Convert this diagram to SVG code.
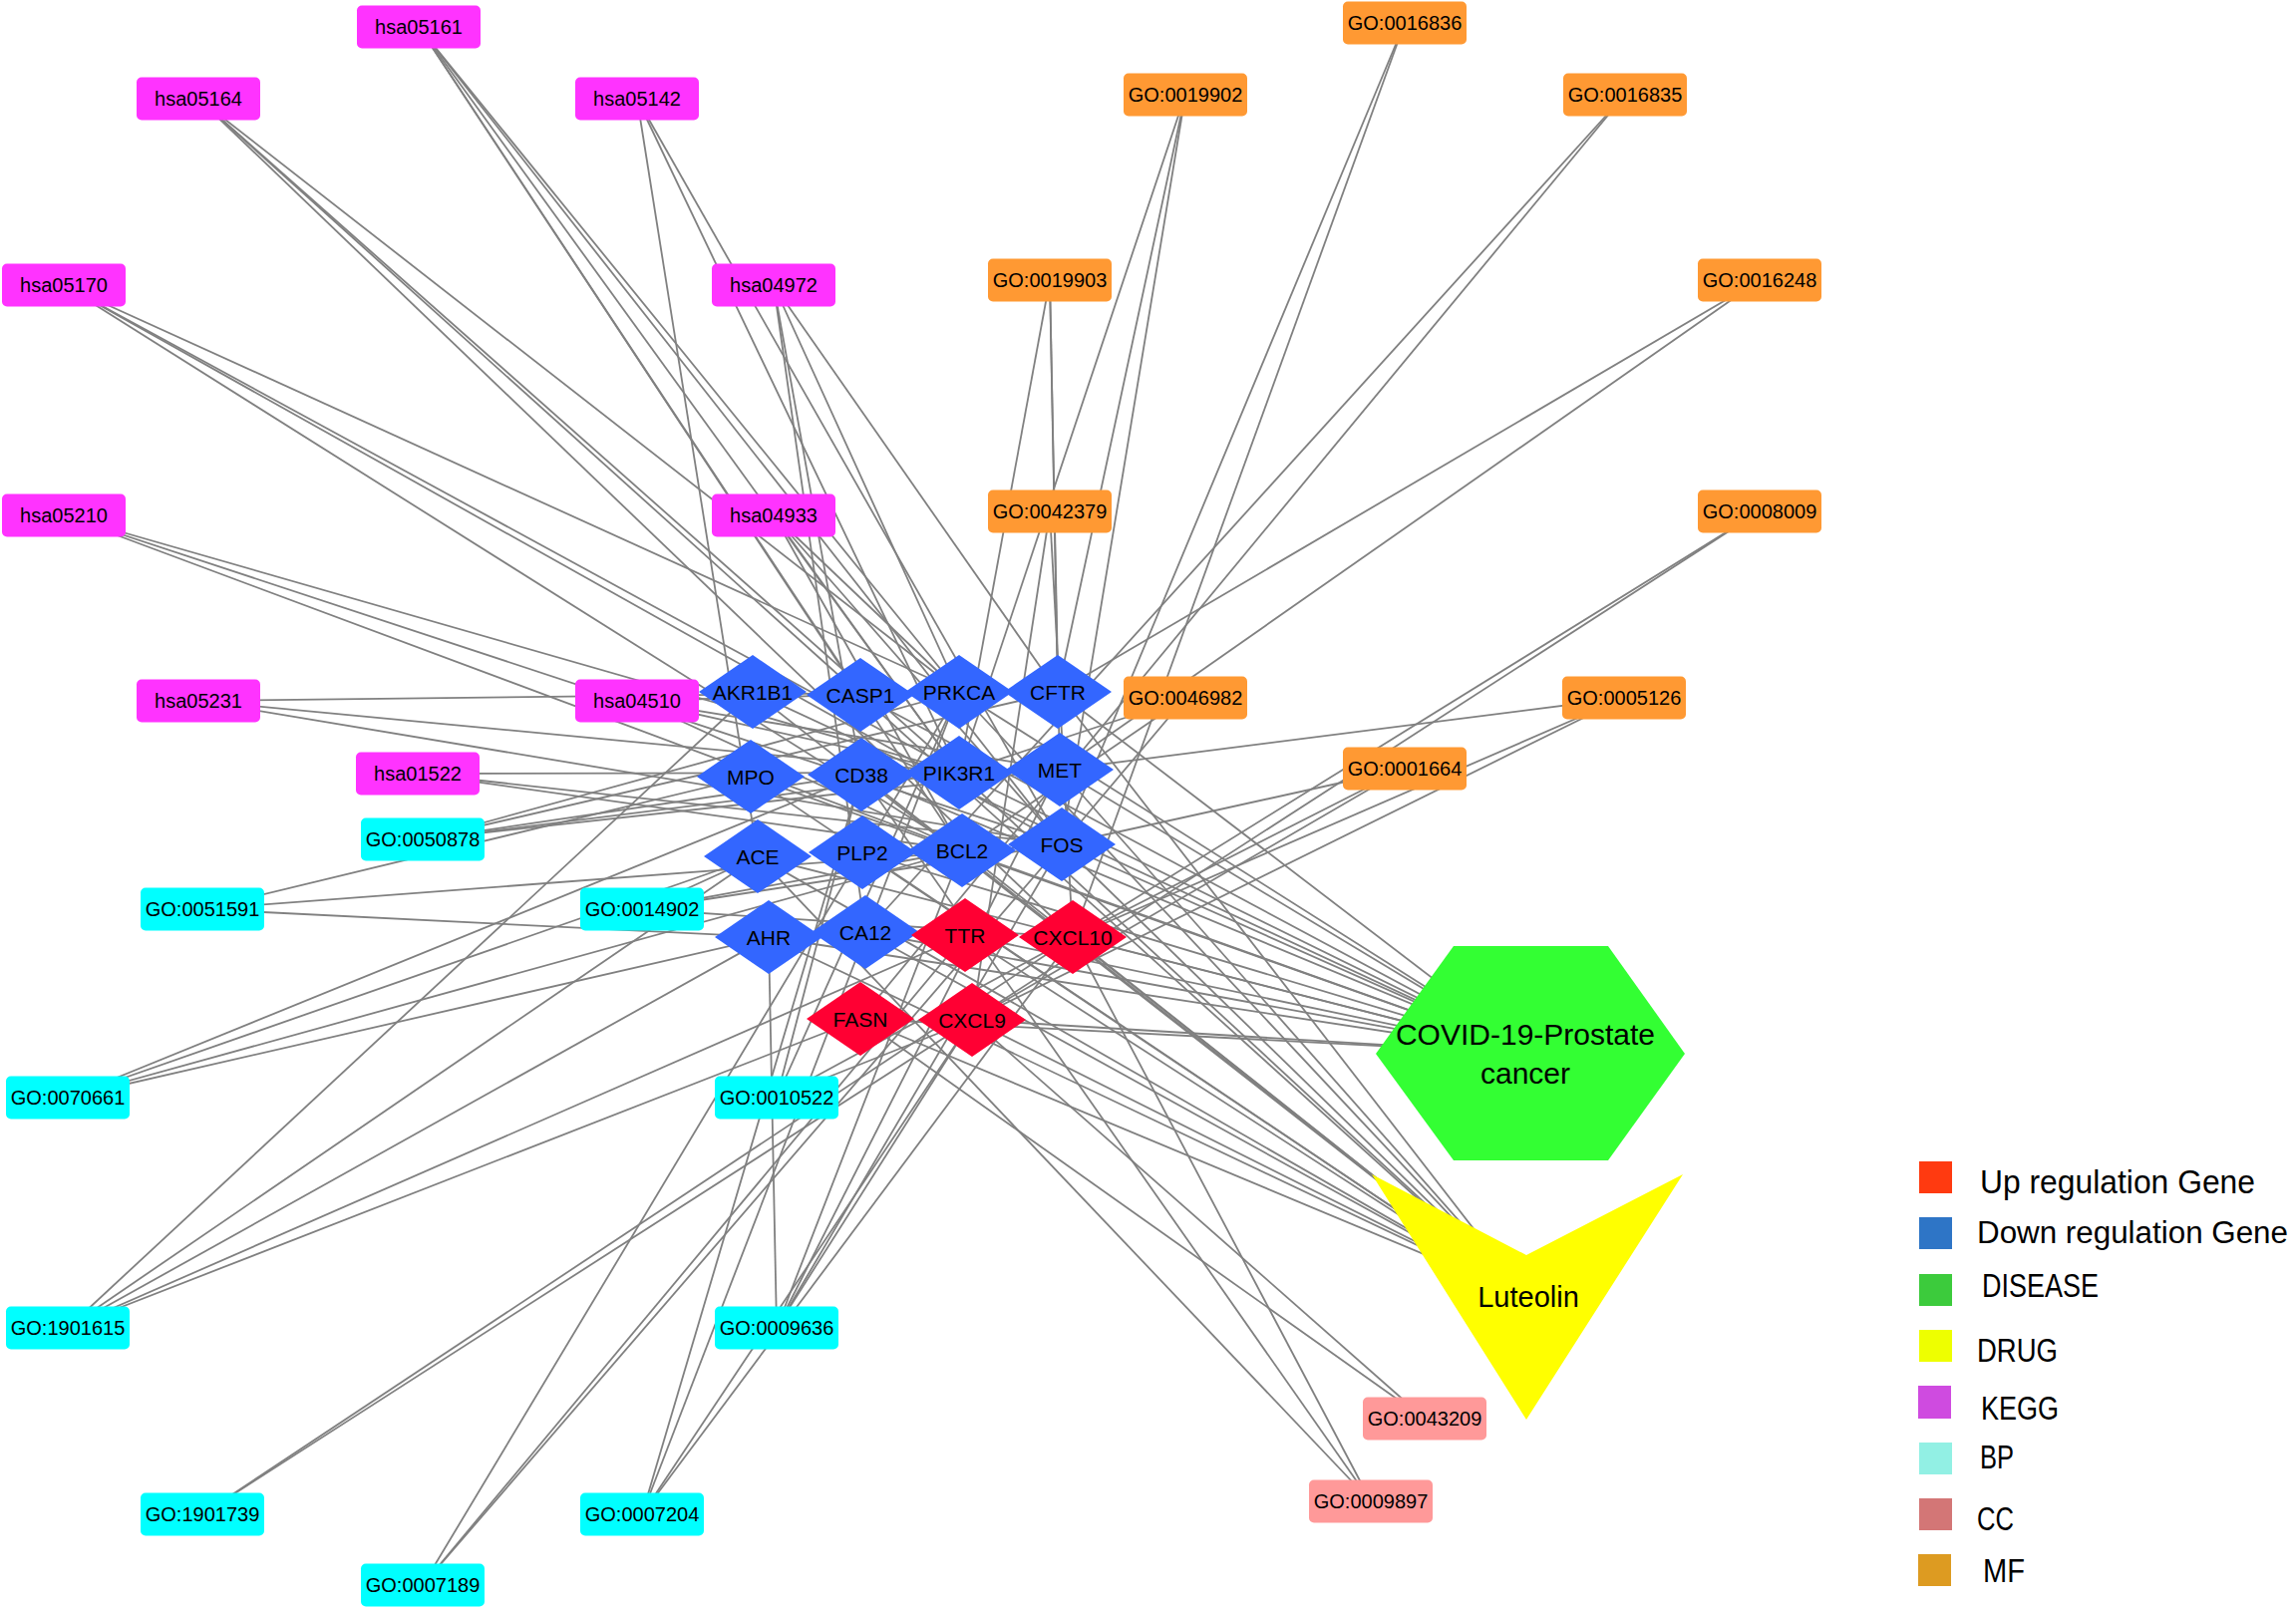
<svg xmlns="http://www.w3.org/2000/svg" width="2303" height="1614" viewBox="0 0 2303 1614">
<style>
.e line{stroke:#808080;stroke-width:1.8}
.k{fill:#FF33FF}.bp{fill:#00FFFF}.mf{fill:#FF9933}.cc{fill:#FF9999}
.dn{fill:#3366FF}.up{fill:#FF0033}
text{font-family:"Liberation Sans",Arial,sans-serif;fill:#000;text-anchor:middle}
.t{font-size:20px}.g{font-size:21px}.big{font-size:30px}
.lg{font-size:33px;text-anchor:start}
</style>
<rect width="2303" height="1614" fill="#fff"/>
<g id="edges" class="e">
<line x1="420" y1="27" x2="962" y2="694"/><line x1="420" y1="27" x2="962" y2="775"/><line x1="420" y1="27" x2="965" y2="853"/><line x1="420" y1="27" x2="1065" y2="847"/><line x1="420" y1="27" x2="863" y2="697"/>
<line x1="199" y1="99" x2="1076" y2="940"/><line x1="199" y1="99" x2="863" y2="697"/><line x1="199" y1="99" x2="962" y2="775"/><line x1="199" y1="99" x2="962" y2="694"/>
<line x1="639" y1="99" x2="760" y2="859"/><line x1="639" y1="99" x2="1065" y2="847"/><line x1="639" y1="99" x2="962" y2="775"/>
<line x1="64" y1="286" x2="962" y2="694"/><line x1="64" y1="286" x2="962" y2="775"/><line x1="64" y1="286" x2="1065" y2="847"/><line x1="64" y1="286" x2="965" y2="853"/>
<line x1="776" y1="286" x2="1061" y2="694"/><line x1="776" y1="286" x2="962" y2="694"/><line x1="776" y1="286" x2="864" y2="777"/><line x1="776" y1="286" x2="868" y2="935"/>
<line x1="64" y1="517" x2="962" y2="775"/><line x1="64" y1="517" x2="1065" y2="847"/><line x1="64" y1="517" x2="965" y2="853"/>
<line x1="776" y1="517" x2="962" y2="694"/><line x1="776" y1="517" x2="962" y2="775"/><line x1="776" y1="517" x2="965" y2="853"/><line x1="776" y1="517" x2="1065" y2="847"/>
<line x1="199" y1="703" x2="962" y2="694"/><line x1="199" y1="703" x2="962" y2="775"/><line x1="199" y1="703" x2="1065" y2="847"/>
<line x1="639" y1="703" x2="962" y2="694"/><line x1="639" y1="703" x2="962" y2="775"/><line x1="639" y1="703" x2="965" y2="853"/><line x1="639" y1="703" x2="1063" y2="772"/>
<line x1="419" y1="776" x2="962" y2="775"/><line x1="419" y1="776" x2="965" y2="853"/><line x1="419" y1="776" x2="1065" y2="847"/>
<line x1="424" y1="842" x2="962" y2="694"/><line x1="424" y1="842" x2="1061" y2="694"/><line x1="424" y1="842" x2="864" y2="777"/><line x1="424" y1="842" x2="962" y2="775"/><line x1="424" y1="842" x2="1063" y2="772"/>
<line x1="203" y1="912" x2="753" y2="779"/><line x1="203" y1="912" x2="1065" y2="847"/><line x1="203" y1="912" x2="771" y2="940"/>
<line x1="644" y1="912" x2="760" y2="859"/><line x1="644" y1="912" x2="965" y2="853"/><line x1="644" y1="912" x2="1065" y2="847"/><line x1="644" y1="912" x2="1076" y2="940"/>
<line x1="68" y1="1101" x2="864" y2="777"/><line x1="68" y1="1101" x2="965" y2="853"/><line x1="68" y1="1101" x2="771" y2="940"/><line x1="68" y1="1101" x2="760" y2="859"/>
<line x1="779" y1="1101" x2="864" y2="777"/><line x1="779" y1="1101" x2="962" y2="694"/><line x1="779" y1="1101" x2="1076" y2="940"/><line x1="779" y1="1101" x2="975" y2="1023"/>
<line x1="68" y1="1332" x2="755" y2="694"/><line x1="68" y1="1332" x2="760" y2="859"/><line x1="68" y1="1332" x2="771" y2="940"/><line x1="68" y1="1332" x2="968" y2="938"/><line x1="68" y1="1332" x2="863" y2="1022"/>
<line x1="779" y1="1332" x2="771" y2="940"/><line x1="779" y1="1332" x2="965" y2="853"/><line x1="779" y1="1332" x2="1065" y2="847"/><line x1="779" y1="1332" x2="1063" y2="772"/><line x1="779" y1="1332" x2="975" y2="1023"/>
<line x1="203" y1="1519" x2="1076" y2="940"/><line x1="203" y1="1519" x2="975" y2="1023"/>
<line x1="644" y1="1519" x2="1076" y2="940"/><line x1="644" y1="1519" x2="975" y2="1023"/><line x1="644" y1="1519" x2="864" y2="777"/><line x1="644" y1="1519" x2="962" y2="694"/>
<line x1="424" y1="1590" x2="962" y2="694"/><line x1="424" y1="1590" x2="968" y2="938"/><line x1="424" y1="1590" x2="1065" y2="847"/>
<line x1="1409" y1="23" x2="1076" y2="940"/><line x1="1409" y1="23" x2="1065" y2="847"/>
<line x1="1189" y1="95" x2="962" y2="775"/><line x1="1189" y1="95" x2="1061" y2="694"/><line x1="1189" y1="95" x2="1065" y2="847"/>
<line x1="1630" y1="95" x2="868" y2="935"/><line x1="1630" y1="95" x2="863" y2="1022"/>
<line x1="1053" y1="281" x2="1061" y2="694"/><line x1="1053" y1="281" x2="962" y2="775"/><line x1="1053" y1="281" x2="1063" y2="772"/>
<line x1="1053" y1="513" x2="1076" y2="940"/><line x1="1053" y1="513" x2="975" y2="1023"/>
<line x1="1765" y1="281" x2="1061" y2="694"/><line x1="1765" y1="281" x2="1063" y2="772"/>
<line x1="1765" y1="513" x2="1076" y2="940"/><line x1="1765" y1="513" x2="975" y2="1023"/>
<line x1="1189" y1="700" x2="965" y2="853"/><line x1="1189" y1="700" x2="1065" y2="847"/><line x1="1189" y1="700" x2="962" y2="775"/>
<line x1="1629" y1="700" x2="1063" y2="772"/><line x1="1629" y1="700" x2="1076" y2="940"/><line x1="1629" y1="700" x2="975" y2="1023"/>
<line x1="1409" y1="771" x2="1076" y2="940"/><line x1="1409" y1="771" x2="975" y2="1023"/><line x1="1409" y1="771" x2="1065" y2="847"/>
<line x1="1429" y1="1423" x2="863" y2="1022"/><line x1="1429" y1="1423" x2="975" y2="1023"/>
<line x1="1375" y1="1506" x2="1076" y2="940"/><line x1="1375" y1="1506" x2="760" y2="859"/><line x1="1375" y1="1506" x2="864" y2="777"/>
<line x1="1536" y1="1057" x2="755" y2="694"/><line x1="1536" y1="1057" x2="863" y2="697"/><line x1="1536" y1="1057" x2="962" y2="694"/><line x1="1536" y1="1057" x2="1061" y2="694"/><line x1="1536" y1="1057" x2="753" y2="779"/><line x1="1536" y1="1057" x2="864" y2="777"/><line x1="1536" y1="1057" x2="962" y2="775"/><line x1="1536" y1="1057" x2="1063" y2="772"/><line x1="1536" y1="1057" x2="760" y2="859"/><line x1="1536" y1="1057" x2="865" y2="855"/><line x1="1536" y1="1057" x2="965" y2="853"/><line x1="1536" y1="1057" x2="1065" y2="847"/><line x1="1536" y1="1057" x2="771" y2="940"/><line x1="1536" y1="1057" x2="868" y2="935"/><line x1="1536" y1="1057" x2="968" y2="938"/><line x1="1536" y1="1057" x2="1076" y2="940"/><line x1="1536" y1="1057" x2="863" y2="1022"/><line x1="1536" y1="1057" x2="975" y2="1023"/>
<line x1="1531" y1="1301" x2="755" y2="694"/><line x1="1531" y1="1301" x2="863" y2="697"/><line x1="1531" y1="1301" x2="962" y2="694"/><line x1="1531" y1="1301" x2="1061" y2="694"/><line x1="1531" y1="1301" x2="753" y2="779"/><line x1="1531" y1="1301" x2="864" y2="777"/><line x1="1531" y1="1301" x2="962" y2="775"/><line x1="1531" y1="1301" x2="1063" y2="772"/><line x1="1531" y1="1301" x2="760" y2="859"/><line x1="1531" y1="1301" x2="865" y2="855"/><line x1="1531" y1="1301" x2="965" y2="853"/><line x1="1531" y1="1301" x2="1065" y2="847"/><line x1="1531" y1="1301" x2="771" y2="940"/><line x1="1531" y1="1301" x2="868" y2="935"/><line x1="1531" y1="1301" x2="968" y2="938"/><line x1="1531" y1="1301" x2="1076" y2="940"/><line x1="1531" y1="1301" x2="863" y2="1022"/><line x1="1531" y1="1301" x2="975" y2="1023"/>
</g>
<g id="n-hsa05161"><rect class="k" x="358" y="5.5" width="124" height="43" rx="5"/><text class="t" x="420" y="34">hsa05161</text></g>
<g id="n-hsa05164"><rect class="k" x="137" y="77.5" width="124" height="43" rx="5"/><text class="t" x="199" y="106">hsa05164</text></g>
<g id="n-hsa05142"><rect class="k" x="577" y="77.5" width="124" height="43" rx="5"/><text class="t" x="639" y="106">hsa05142</text></g>
<g id="n-hsa05170"><rect class="k" x="2" y="264.5" width="124" height="43" rx="5"/><text class="t" x="64" y="293">hsa05170</text></g>
<g id="n-hsa04972"><rect class="k" x="714" y="264.5" width="124" height="43" rx="5"/><text class="t" x="776" y="293">hsa04972</text></g>
<g id="n-hsa05210"><rect class="k" x="2" y="495.5" width="124" height="43" rx="5"/><text class="t" x="64" y="524">hsa05210</text></g>
<g id="n-hsa04933"><rect class="k" x="714" y="495.5" width="124" height="43" rx="5"/><text class="t" x="776" y="524">hsa04933</text></g>
<g id="n-hsa05231"><rect class="k" x="137" y="681.5" width="124" height="43" rx="5"/><text class="t" x="199" y="710">hsa05231</text></g>
<g id="n-hsa04510"><rect class="k" x="577" y="681.5" width="124" height="43" rx="5"/><text class="t" x="639" y="710">hsa04510</text></g>
<g id="n-hsa01522"><rect class="k" x="357" y="754.5" width="124" height="43" rx="5"/><text class="t" x="419" y="783">hsa01522</text></g>
<g id="n-GO0050878"><rect class="bp" x="362" y="820.5" width="124" height="43" rx="5"/><text class="t" x="424" y="849">GO:0050878</text></g>
<g id="n-GO0051591"><rect class="bp" x="141" y="890.5" width="124" height="43" rx="5"/><text class="t" x="203" y="919">GO:0051591</text></g>
<g id="n-GO0014902"><rect class="bp" x="582" y="890.5" width="124" height="43" rx="5"/><text class="t" x="644" y="919">GO:0014902</text></g>
<g id="n-GO0070661"><rect class="bp" x="6" y="1079.5" width="124" height="43" rx="5"/><text class="t" x="68" y="1108">GO:0070661</text></g>
<g id="n-GO0010522"><rect class="bp" x="717" y="1079.5" width="124" height="43" rx="5"/><text class="t" x="779" y="1108">GO:0010522</text></g>
<g id="n-GO1901615"><rect class="bp" x="6" y="1310.5" width="124" height="43" rx="5"/><text class="t" x="68" y="1339">GO:1901615</text></g>
<g id="n-GO0009636"><rect class="bp" x="717" y="1310.5" width="124" height="43" rx="5"/><text class="t" x="779" y="1339">GO:0009636</text></g>
<g id="n-GO1901739"><rect class="bp" x="141" y="1497.5" width="124" height="43" rx="5"/><text class="t" x="203" y="1526">GO:1901739</text></g>
<g id="n-GO0007204"><rect class="bp" x="582" y="1497.5" width="124" height="43" rx="5"/><text class="t" x="644" y="1526">GO:0007204</text></g>
<g id="n-GO0007189"><rect class="bp" x="362" y="1568.5" width="124" height="43" rx="5"/><text class="t" x="424" y="1597">GO:0007189</text></g>
<g id="n-GO0016836"><rect class="mf" x="1347" y="1.5" width="124" height="43" rx="5"/><text class="t" x="1409" y="30">GO:0016836</text></g>
<g id="n-GO0019902"><rect class="mf" x="1127" y="73.5" width="124" height="43" rx="5"/><text class="t" x="1189" y="102">GO:0019902</text></g>
<g id="n-GO0016835"><rect class="mf" x="1568" y="73.5" width="124" height="43" rx="5"/><text class="t" x="1630" y="102">GO:0016835</text></g>
<g id="n-GO0019903"><rect class="mf" x="991" y="259.5" width="124" height="43" rx="5"/><text class="t" x="1053" y="288">GO:0019903</text></g>
<g id="n-GO0016248"><rect class="mf" x="1703" y="259.5" width="124" height="43" rx="5"/><text class="t" x="1765" y="288">GO:0016248</text></g>
<g id="n-GO0042379"><rect class="mf" x="991" y="491.5" width="124" height="43" rx="5"/><text class="t" x="1053" y="520">GO:0042379</text></g>
<g id="n-GO0008009"><rect class="mf" x="1703" y="491.5" width="124" height="43" rx="5"/><text class="t" x="1765" y="520">GO:0008009</text></g>
<g id="n-GO0046982"><rect class="mf" x="1127" y="678.5" width="124" height="43" rx="5"/><text class="t" x="1189" y="707">GO:0046982</text></g>
<g id="n-GO0005126"><rect class="mf" x="1567" y="678.5" width="124" height="43" rx="5"/><text class="t" x="1629" y="707">GO:0005126</text></g>
<g id="n-GO0001664"><rect class="mf" x="1347" y="749.5" width="124" height="43" rx="5"/><text class="t" x="1409" y="778">GO:0001664</text></g>
<g id="n-GO0043209"><rect class="cc" x="1367" y="1401.5" width="124" height="43" rx="5"/><text class="t" x="1429" y="1430">GO:0043209</text></g>
<g id="n-GO0009897"><rect class="cc" x="1313" y="1484.5" width="124" height="43" rx="5"/><text class="t" x="1375" y="1513">GO:0009897</text></g>
<g id="n-AKR1B1"><polygon class="dn" points="701,694 755,657 809,694 755,731"/><text class="g" x="755" y="701.5">AKR1B1</text></g>
<g id="n-CASP1"><polygon class="dn" points="809,697 863,660 917,697 863,734"/><text class="g" x="863" y="704.5">CASP1</text></g>
<g id="n-PRKCA"><polygon class="dn" points="908,694 962,657 1016,694 962,731"/><text class="g" x="962" y="701.5">PRKCA</text></g>
<g id="n-CFTR"><polygon class="dn" points="1007,694 1061,657 1115,694 1061,731"/><text class="g" x="1061" y="701.5">CFTR</text></g>
<g id="n-MPO"><polygon class="dn" points="699,779 753,742 807,779 753,816"/><text class="g" x="753" y="786.5">MPO</text></g>
<g id="n-CD38"><polygon class="dn" points="810,777 864,740 918,777 864,814"/><text class="g" x="864" y="784.5">CD38</text></g>
<g id="n-PIK3R1"><polygon class="dn" points="908,775 962,738 1016,775 962,812"/><text class="g" x="962" y="782.5">PIK3R1</text></g>
<g id="n-MET"><polygon class="dn" points="1009,772 1063,735 1117,772 1063,809"/><text class="g" x="1063" y="779.5">MET</text></g>
<g id="n-ACE"><polygon class="dn" points="706,859 760,822 814,859 760,896"/><text class="g" x="760" y="866.5">ACE</text></g>
<g id="n-PLP2"><polygon class="dn" points="811,855 865,818 919,855 865,892"/><text class="g" x="865" y="862.5">PLP2</text></g>
<g id="n-BCL2"><polygon class="dn" points="911,853 965,816 1019,853 965,890"/><text class="g" x="965" y="860.5">BCL2</text></g>
<g id="n-FOS"><polygon class="dn" points="1011,847 1065,810 1119,847 1065,884"/><text class="g" x="1065" y="854.5">FOS</text></g>
<g id="n-AHR"><polygon class="dn" points="717,940 771,903 825,940 771,977"/><text class="g" x="771" y="947.5">AHR</text></g>
<g id="n-CA12"><polygon class="dn" points="814,935 868,898 922,935 868,972"/><text class="g" x="868" y="942.5">CA12</text></g>
<g id="n-TTR"><polygon class="up" points="914,938 968,901 1022,938 968,975"/><text class="g" x="968" y="945.5">TTR</text></g>
<g id="n-CXCL10"><polygon class="up" points="1022,940 1076,903 1130,940 1076,977"/><text class="g" x="1076" y="947.5">CXCL10</text></g>
<g id="n-FASN"><polygon class="up" points="809,1022 863,985 917,1022 863,1059"/><text class="g" x="863" y="1029.5">FASN</text></g>
<g id="n-CXCL9"><polygon class="up" points="921,1023 975,986 1029,1023 975,1060"/><text class="g" x="975" y="1030.5">CXCL9</text></g>
<g id="n-disease"><polygon fill="#33FF33" points="1380,1057 1458,949 1613,949 1690,1057 1613,1164 1458,1164"/><text class="big" x="1530" y="1048">COVID-19-Prostate</text><text class="big" x="1530" y="1087">cancer</text></g>
<g id="n-drug"><polygon fill="#FFFF00" points="1376,1178 1531,1259 1688,1178 1531,1424"/><text class="big" x="1533" y="1311" style="font-size:29px">Luteolin</text></g>
<g id="legend">
<rect x="1925" y="1165" width="33" height="32" fill="#FF3A10"/><text class="lg" x="1986" y="1197" textLength="276" lengthAdjust="spacingAndGlyphs">Up regulation Gene</text>
<rect x="1925" y="1221" width="33" height="32" fill="#2E75C6"/><text class="lg" x="1983" y="1247" style="font-size:31px" textLength="312" lengthAdjust="spacingAndGlyphs">Down regulation Gene</text>
<rect x="1925" y="1278" width="33" height="32" fill="#3CCB3C"/><text class="lg" x="1988" y="1301" textLength="117" lengthAdjust="spacingAndGlyphs">DISEASE</text>
<rect x="1925" y="1334" width="33" height="32" fill="#EEFF00"/><text class="lg" x="1983" y="1366" textLength="81" lengthAdjust="spacingAndGlyphs">DRUG</text>
<rect x="1924" y="1390" width="33" height="33" fill="#CF4BE0"/><text class="lg" x="1987" y="1424" textLength="78" lengthAdjust="spacingAndGlyphs">KEGG</text>
<rect x="1925" y="1447" width="33" height="32" fill="#92F0E4"/><text class="lg" x="1986" y="1473" textLength="34" lengthAdjust="spacingAndGlyphs">BP</text>
<rect x="1925" y="1503" width="33" height="32" fill="#D37676"/><text class="lg" x="1983" y="1535" textLength="37" lengthAdjust="spacingAndGlyphs">CC</text>
<rect x="1924" y="1559" width="33" height="32" fill="#DD9B21"/><text class="lg" x="1989" y="1587" textLength="42" lengthAdjust="spacingAndGlyphs">MF</text>
</g>
</svg>
